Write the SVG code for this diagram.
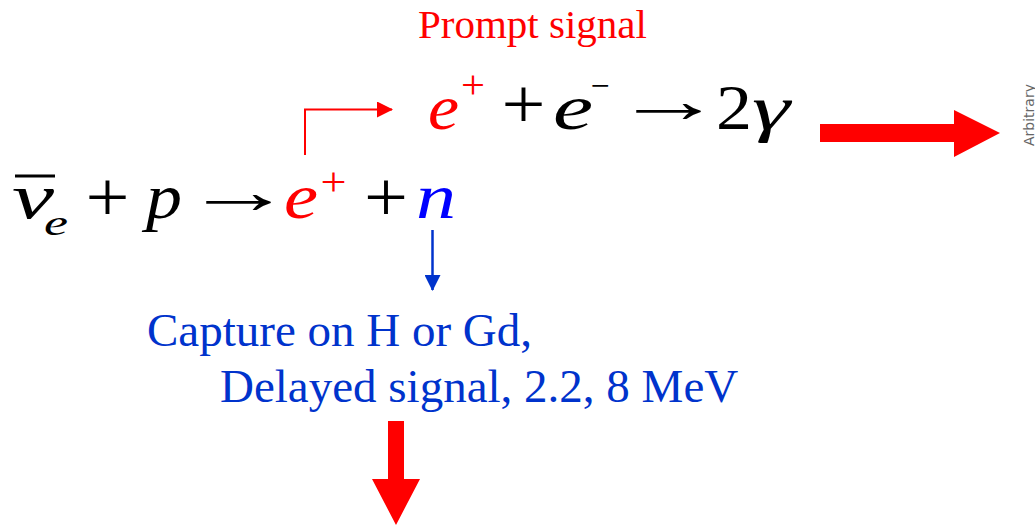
<svg xmlns="http://www.w3.org/2000/svg" width="1035" height="525" viewBox="0 0 1035 525">
<style>
.m{font-family:'Liberation Serif','Times New Roman',serif;font-size:64px;fill:#000}
.i{font-style:italic}
.op{font-size:72px}
.sup{font-size:40px}
.red{fill:#FF0000}
.nb{fill:#0000FF}
.lbl{font-family:'Liberation Serif','Times New Roman',serif;font-size:47px;fill:#0033CC}
</style>
<defs>
<marker id="ahr" viewBox="0 0 16 16" refX="15" refY="8" markerWidth="16" markerHeight="16" markerUnits="userSpaceOnUse" orient="auto"><path d="M0,0 L16,8 L0,16 Z" fill="#FF0000"/></marker>
<marker id="ahb" viewBox="0 0 16 16" refX="15" refY="8" markerWidth="16" markerHeight="16" markerUnits="userSpaceOnUse" orient="auto"><path d="M0,0 L16,8 L0,16 Z" fill="#0033CC"/></marker>
</defs>
<rect width="1035" height="525" fill="#fff"/>
<g id="prompt-label"><text x="418" y="38" font-family="'Liberation Serif','Times New Roman',serif" font-size="41" fill="#FF0000">Prompt signal</text></g>
<g id="annihilation">
<text class="m i red" x="428" y="129" textLength="31" lengthAdjust="spacingAndGlyphs">e</text>
<text class="m sup red" x="473" y="97.5" text-anchor="middle" textLength="24" lengthAdjust="spacingAndGlyphs">+</text>
<text class="m op" x="523.5" y="128" text-anchor="middle" textLength="44" lengthAdjust="spacingAndGlyphs">+</text>
<text class="m i" x="553" y="129" textLength="40" lengthAdjust="spacingAndGlyphs">e</text>
<text class="m" x="600" y="96.5" text-anchor="middle" style="font-size:34px" textLength="19" lengthAdjust="spacingAndGlyphs">−</text>
<text class="m" x="614" y="122" textLength="109" lengthAdjust="spacingAndGlyphs">→</text>
<text class="m" x="716" y="129" textLength="36" lengthAdjust="spacingAndGlyphs">2</text>
<text class="m i" x="752" y="129" textLength="38" lengthAdjust="spacingAndGlyphs">γ</text>
</g>
<g id="reaction">
<line x1="15" y1="176" x2="55" y2="176" stroke="#000" stroke-width="3"/>
<text class="m i" x="12" y="218" textLength="42" lengthAdjust="spacingAndGlyphs">ν</text>
<text class="m i" x="44" y="235" textLength="24" lengthAdjust="spacingAndGlyphs" style="font-size:36px">e</text>
<text class="m op" x="107.5" y="221" text-anchor="middle" textLength="44" lengthAdjust="spacingAndGlyphs">+</text>
<text class="m i" x="146" y="218" textLength="36" lengthAdjust="spacingAndGlyphs">p</text>
<text class="m" x="184" y="213" textLength="109" lengthAdjust="spacingAndGlyphs">→</text>
<text class="m i red" x="284" y="218" textLength="34" lengthAdjust="spacingAndGlyphs">e</text>
<text class="m sup red" x="333.5" y="195" text-anchor="middle" textLength="26" lengthAdjust="spacingAndGlyphs">+</text>
<text class="m op" x="386" y="221" text-anchor="middle" textLength="44" lengthAdjust="spacingAndGlyphs">+</text>
<text class="m i nb" x="416" y="218" textLength="40" lengthAdjust="spacingAndGlyphs">n</text>
</g>
<g id="delayed-label">
<text class="lbl" x="147" y="346">Capture on H or Gd,</text>
<text class="lbl" x="220" y="402">Delayed signal, 2.2, 8 MeV</text>
</g>
<g id="axis-label"><text x="1034" y="146" transform="rotate(-90 1034 146)" font-family="'DejaVu Sans',sans-serif" font-size="14" fill="#666">Arbitrary</text></g>
<g id="connectors">
<polyline points="305,155 305,109.5 392,109.5" fill="none" stroke="#FF0000" stroke-width="2" marker-end="url(#ahr)"/>
<line x1="432.5" y1="230" x2="432.5" y2="290" stroke="#0033CC" stroke-width="2.5" marker-end="url(#ahb)"/>
<polygon points="820,124 954,124 954,110 1000,133 954,157 954,142 820,142" fill="#FF0000"/>
<polygon points="388,421 404,421 404,479 420,479 396,525 372,479 388,479" fill="#FF0000"/>
</g>
</svg>
